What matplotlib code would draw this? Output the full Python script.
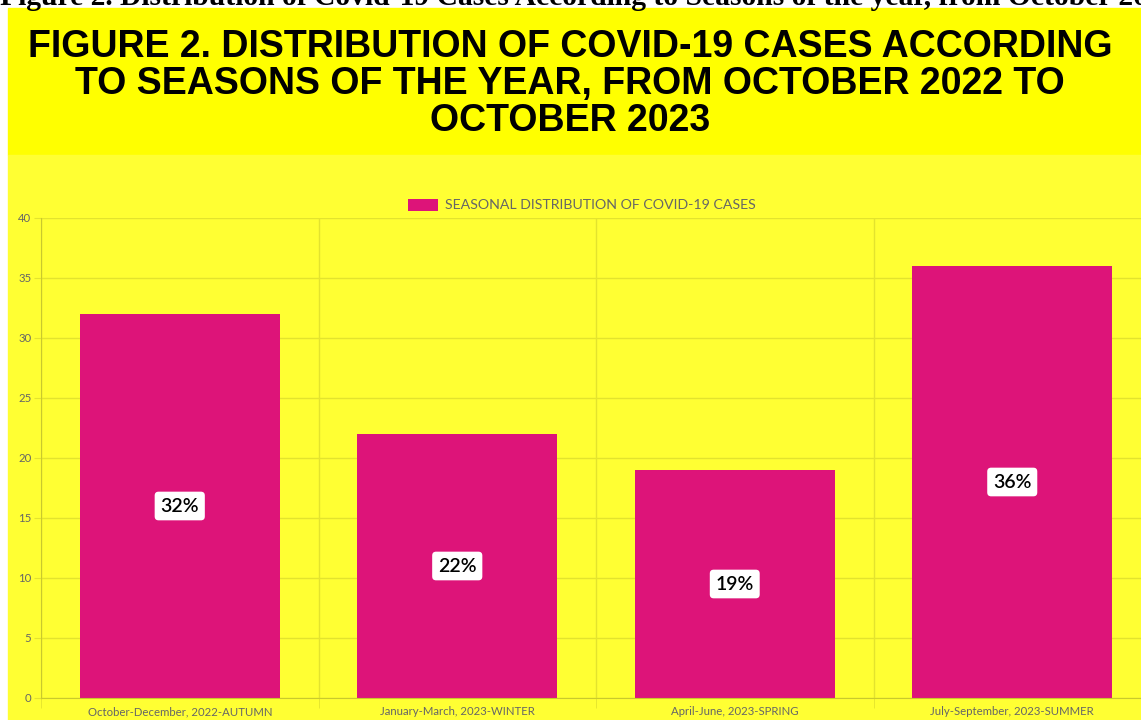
import matplotlib.pyplot as plt
from matplotlib.patches import Rectangle

# data
seasons = ['October-December, 2022-AUTUMN', 'January-March, 2023-WINTER',
           'April-June, 2023-SPRING', 'July-September, 2023-SUMMER']
cases_pct = [32, 22, 19, 36]
legend_label = 'SEASONAL DISTRIBUTION OF COVID-19 CASES'
title = ('FIGURE 2. DISTRIBUTION OF COVID-19 CASES ACCORDING\n'
         'TO SEASONS OF THE YEAR, FROM OCTOBER 2022 TO\nOCTOBER 2023')
caption = ('Figure 2. Distribution of Covid-19 Cases According to Seasons '
           'of the year, from October 2022 to October 2023')

W, H = 1141, 720
fig = plt.figure(figsize=(W / 100, H / 100), dpi=100)
fig.patch.set_facecolor('white')

# backgrounds: title band + chart area
fig.patches.append(Rectangle((8 / W, 1 - 155 / H), 1, (155 - 8) / H,
                             transform=fig.transFigure, color='#FFFF00', zorder=-2))
fig.patches.append(Rectangle((8 / W, 0), 1, 1 - 155 / H,
                             transform=fig.transFigure, color='#FFFF33', zorder=-2))

# cut-off caption at very top
fig.text(0, 1 - 5 / H, caption, fontfamily='Liberation Serif', fontweight='bold',
         fontsize=21.3, va='baseline', ha='left', color='black')

fig.text(570 / W, 1 - 84 / H, title, fontfamily='Liberation Sans', fontweight='bold',
         fontsize=27, ha='center', va='center', linespacing=1.03, color='black')

ax = fig.add_axes([41 / W, 1 - 698 / H, (1151 - 41) / W, 480 / H])
ax.set_facecolor('none')
ax.set_zorder(2)

x = range(len(seasons))
bars = ax.bar(x, cases_pct, width=0.72, color='#DD1479', label=legend_label, zorder=2)

for xi, v in zip(x, cases_pct):
    ax.text(xi, v / 2, f'{v}%', ha='center', va='center', fontsize=14,
            fontfamily='Lato', fontweight='semibold', color='black', zorder=3,
            bbox=dict(boxstyle='round,pad=0.3,rounding_size=0.2',
                      fc='white', ec='none'))

ax.set_xlim(-0.5, 3.5)
ax.set_ylim(0, 40)
ax.set_yticks(range(0, 41, 5))
ax.set_xticks(list(x))
ax.set_xticklabels(seasons)
ax.set_xticks([-0.5, 0.5, 1.5, 2.5], minor=True)

grid_c = '#E3E32E'
ax.grid(axis='y', color=grid_c, linewidth=1, zorder=0)
ax.grid(axis='x', which='minor', color=grid_c, linewidth=1, zorder=0)
for s in ['top', 'right']:
    ax.spines[s].set_visible(False)
for s in ['left', 'bottom']:
    ax.spines[s].set_color('#C9C92D')
ax.tick_params(axis='x', which='major', length=0, pad=6)
ax.tick_params(axis='x', which='minor', length=7, color=grid_c)
ax.tick_params(axis='y', length=5, color=grid_c, pad=2)
for lbl in ax.get_xticklabels() + ax.get_yticklabels():
    lbl.set_fontfamily('Lato')
    lbl.set_fontsize(8.2)
    lbl.set_color('#666666')

leg = fig.legend(loc='center', bbox_to_anchor=(582 / W, 1 - 205 / H), frameon=False,
                 prop={'family': 'Lato', 'size': 10.2}, handlelength=2.15,
                 handleheight=0.95, handletextpad=0.5)
for t in leg.get_texts():
    t.set_color('#666666')

fig.savefig('out.png', dpi=100)
